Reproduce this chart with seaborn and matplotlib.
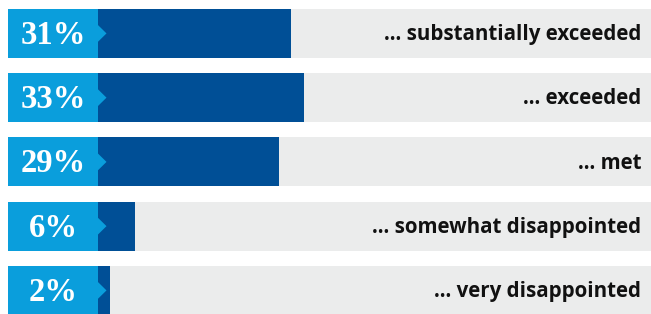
import matplotlib
matplotlib.use("Agg")
import matplotlib.pyplot as plt
import seaborn as sns
import pandas as pd
from matplotlib.patches import Polygon

categories = ["... substantially exceeded", "... exceeded", "... met",
              "... somewhat disappointed", "... very disappointed"]
values = [31, 33, 29, 6, 2]
pct_labels = ["31%", "33%", "29%", "6%", "2%"]

LIGHT = "#0A9EDC"
DARK = "#004F96"
GRAY = "#EBECEC"

df = pd.DataFrame({"cat": categories, "val": values})

sns.set_style("white")
fig = plt.figure(figsize=(6.51, 3.14), dpi=100)
ax = fig.add_axes([0, 0, 1, 1])

px = 6.24  # pixels per percent
xmin = -98 / px
xmax = (651 - 98) / px
row = 64.25
bh = 49 / row

# gray background and light blue boxes
for i in range(len(categories)):
    ax.barh(i, xmax - (-90 / px), left=-90 / px, height=bh, color=GRAY, zorder=1)
    ax.barh(i, 90 / px, left=-90 / px, height=bh, color=LIGHT, zorder=3)

sns.barplot(data=df, y="cat", x="val", orient="h", color=DARK, width=bh,
            saturation=1, ax=ax, zorder=2)
for p in ax.patches:
    p.set_edgecolor("none")

for i, (lab, cat) in enumerate(zip(pct_labels, categories)):
    tri = Polygon([[0, i - 0.13], [8.5 / px, i], [0, i + 0.13]], closed=True,
                  facecolor=LIGHT, edgecolor="none", zorder=4)
    ax.add_patch(tri)
    ax.text(-45 / px, i + 0.03, lab, color="white", ha="center", va="center",
            fontsize=23.5, fontweight="bold", family="Liberation Serif", zorder=5)
    ax.text((641 - 98) / px, i + 0.02, cat, color="#111111", ha="right", va="center",
            fontsize=14.8, fontweight="bold", family="Open Sans", zorder=5)

ax.set_xlim(xmin, xmax)
ax.set_ylim(-0.52 + 314 / row, -0.52)
ax.axis("off")

fig.savefig("out.png", dpi=100)
